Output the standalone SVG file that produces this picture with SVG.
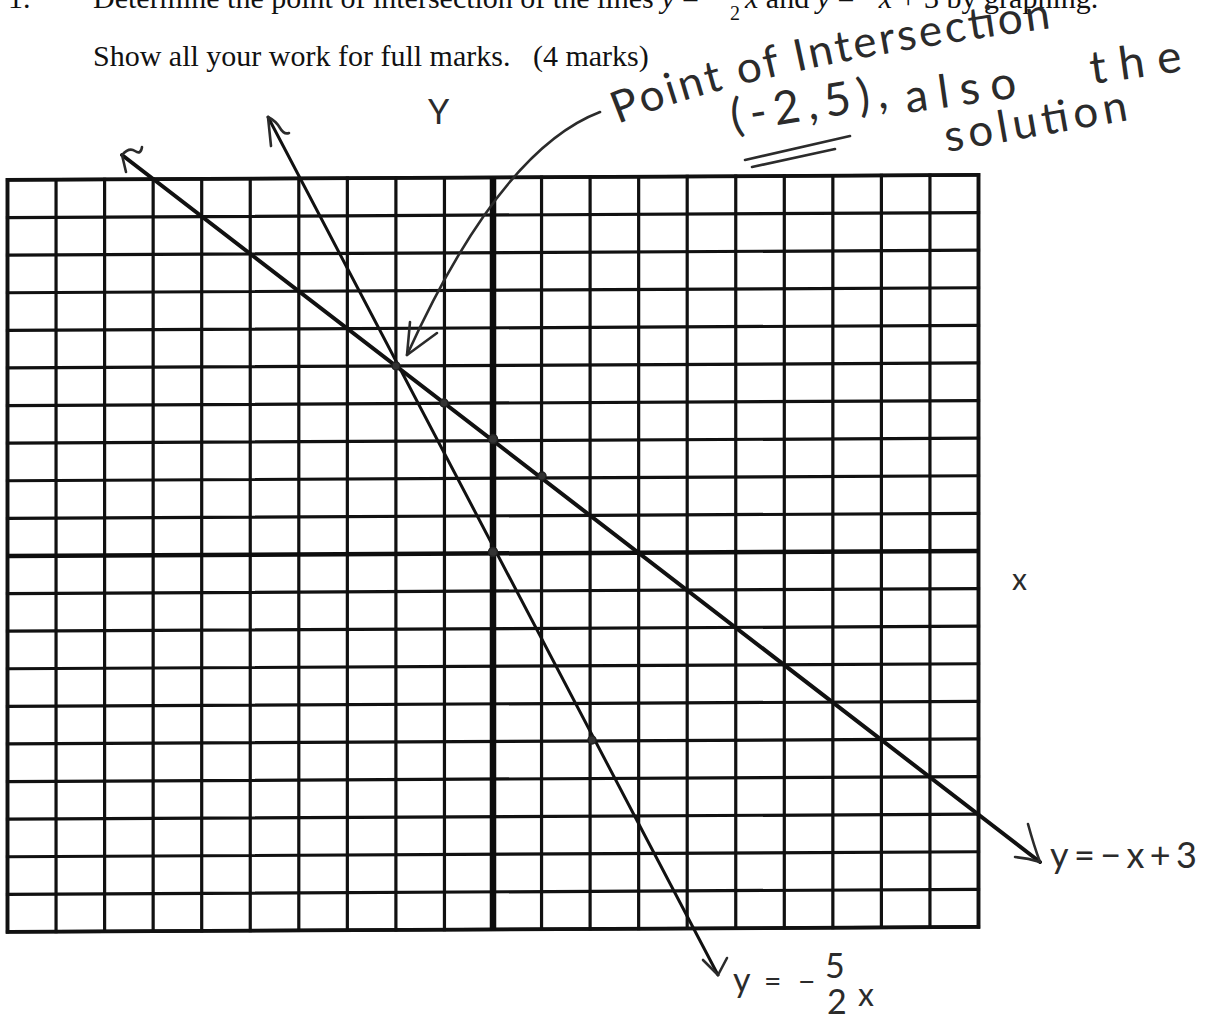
<svg xmlns="http://www.w3.org/2000/svg" width="1212" height="1017" viewBox="0 0 1212 1017">
<style>
.print{font-family:"Liberation Serif","Times New Roman",serif;font-size:30px;fill:#111}
.it{font-style:italic}
.hand{font-family:Lato,"Open Sans","DejaVu Sans",sans-serif;fill:#2b2b2b}
.grid{stroke:#111;stroke-width:3.2;fill:none;stroke-linecap:square}
.axis{stroke:#0d0d0d;fill:none}
.plot{stroke:#111;fill:none;stroke-linecap:round;stroke-linejoin:round}
.ink{stroke:#2b2b2b;fill:none;stroke-width:2.6;stroke-linecap:round;stroke-linejoin:round}
.dot{fill:#333;stroke:#222;stroke-width:1.5}
</style>
<defs>
<path id="pA" d="M618,124 Q760,66 1068,26"/>
</defs>
<rect width="1212" height="1017" fill="#fff"/>

<g id="header">
<text class="print" x="8" y="8">1.</text>
<text class="print" x="93" y="8">Determine the point of intersection of the lines <tspan class="it">y</tspan> = −</text>
<text class="print" x="730" y="20" style="font-size:20px">2</text>
<text class="print" x="745" y="8"><tspan class="it">x</tspan> and <tspan class="it">y</tspan> = −<tspan class="it">x</tspan> + 3 by graphing.</text>
<text class="print" x="93" y="66" xml:space="preserve">Show all your work for full marks.   (4 marks)</text>
</g>

<g id="grid" transform="matrix(1,-0.00515,0,1,0,0)">
<path class="grid" d="M7.5,180V932M56.05,180V932M104.6,180V932M153.15,180V932M201.7,180V932M250.25,180V932M298.8,180V932M347.35,180V932M395.9,180V932M444.45,180V932M541.55,180V932M590.1,180V932M638.65,180V932M687.2,180V932M735.75,180V932M784.3,180V932M832.85,180V932M881.4,180V932M929.95,180V932M978.5,180V932"/>
<path class="grid" d="M7.5,180H978.5M7.5,217.6H978.5M7.5,255.2H978.5M7.5,292.8H978.5M7.5,330.4H978.5M7.5,368H978.5M7.5,405.6H978.5M7.5,443.2H978.5M7.5,480.8H978.5M7.5,518.4H978.5M7.5,593.6H978.5M7.5,631.2H978.5M7.5,668.8H978.5M7.5,706.4H978.5M7.5,744H978.5M7.5,781.6H978.5M7.5,819.2H978.5M7.5,856.8H978.5M7.5,894.4H978.5M7.5,932H978.5"/>
<path class="grid" style="stroke-width:3.8" d="M7.5,180H978.5V932H7.5Z"/>
<g id="axes">
<line class="axis" x1="493" y1="180" x2="493" y2="932" stroke-width="6.5"/>
<line class="axis" x1="7.5" y1="556" x2="978.5" y2="556" stroke-width="4.5"/>
</g>
</g>

<g id="connectors">
<g id="line-y-neg-x-plus-3">
<line class="plot" x1="122" y1="155" x2="1040" y2="862" stroke-width="4"/>
<path class="ink" d="M126,172 L122,155 Q129,147 135,151 T142,147"/>
<path class="ink" d="M1028,824 Q1034,846 1040,862 Q1028,858 1015,857"/>
</g>
<g id="line-y-neg-5-2-x">
<line class="plot" x1="268" y1="117" x2="718" y2="975" stroke-width="3"/>
<path class="ink" d="M271,146 L268,117 Q276,121 280,128 T289,133"/>
<path class="ink" d="M703,960 L718,975 L727,958"/>
</g>
<g id="pointer">
<path class="ink" d="M600,112 Q500,150 407,355"/>
<path class="ink" d="M410,322 L407,355 L437,333"/>
</g>
</g>

<g id="points">
<circle class="dot" cx="396" cy="366" r="4"/>
<circle class="dot" cx="444" cy="403" r="4"/>
<circle class="dot" cx="493" cy="439" r="4.5"/>
<circle class="dot" cx="542" cy="476" r="4"/>
<circle class="dot" cx="493" cy="552" r="4.5"/>
<circle class="dot" cx="592" cy="740" r="4"/>
</g>

<g id="axis-labels">
<text class="hand" x="428" y="124" style="font-size:34px">Y</text>
<text class="hand" x="1012" y="590" style="font-size:30px">x</text>
</g>

<g id="eq-labels">
<text class="hand" x="1050" y="868" style="font-size:36px" textLength="147" lengthAdjust="spacing">y=−x+3</text>
<g id="eq2" class="hand">
<text x="733" y="992" style="font-size:34px">y</text>
<text x="764" y="992" style="font-size:30px">=</text>
<text x="798" y="992" style="font-size:30px">−</text>
<text x="825" y="978" style="font-size:34px">5</text>
<text x="827" y="1014" style="font-size:34px">2</text>
<text x="858" y="1006" style="font-size:32px">x</text>
</g>
</g>

<g id="annotation" class="hand">
<text style="font-size:44px"><textPath href="#pA" textLength="445" lengthAdjust="spacing">Point of Intersection</textPath></text>
<text x="733" y="132" transform="rotate(-9 733 132)" style="font-size:46px" textLength="158" lengthAdjust="spacing">(-2,5),</text>
<text x="907" y="113" transform="rotate(-8 907 113)" style="font-size:46px" textLength="112" lengthAdjust="spacing">also</text>
<text x="1092" y="84" transform="rotate(-8 1092 84)" style="font-size:46px" textLength="92" lengthAdjust="spacing">the</text>
<text x="947" y="152" transform="rotate(-10 947 152)" style="font-size:44px" textLength="185" lengthAdjust="spacing">solution</text>
<path class="ink" d="M745,160 L850,136 M752,167 L835,149"/>
</g>
</svg>
